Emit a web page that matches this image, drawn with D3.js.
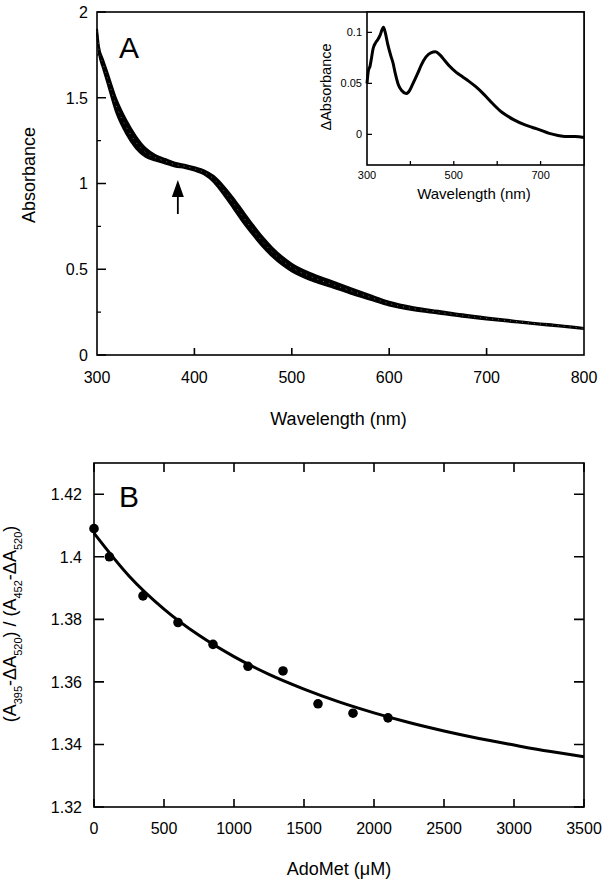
<!DOCTYPE html>
<html><head><meta charset="utf-8">
<script src="https://cdn.jsdelivr.net/npm/d3@7"></script>
<style>
body{margin:0;background:#fff}
text{font-family:"Liberation Sans",Arial,Helvetica,sans-serif;fill:#000}
</style>
</head><body>
<svg id="chart" width="604" height="884"></svg>
<script>
// ---------- Panel A: absorbance spectra (band of traces) ----------
const wavelengths = [300,302,306,310,320,330,340,350,360,370,380,390,400,410,420,430,440,450,460,470,480,490,500,520,540,560,580,600,625,650,675,700,725,750,775,800];
const absUpper = [1.902,1.80,1.725,1.66,1.49,1.37,1.275,1.205,1.166,1.143,1.121,1.11,1.095,1.077,1.043,0.985,0.915,0.837,0.76,0.688,0.626,0.574,0.532,0.475,0.433,0.391,0.35,0.311,0.279,0.258,0.237,0.219,0.203,0.187,0.174,0.158];
const absMiddle = [1.89,1.78,1.70,1.63,1.45,1.33,1.24,1.18,1.15,1.13,1.11,1.10,1.085,1.065,1.025,0.96,0.885,0.805,0.73,0.66,0.60,0.55,0.51,0.455,0.415,0.375,0.337,0.30,0.27,0.25,0.23,0.213,0.198,0.183,0.17,0.155];
const absLower = [1.878,1.76,1.675,1.60,1.41,1.29,1.205,1.155,1.134,1.117,1.099,1.09,1.075,1.053,1.007,0.935,0.855,0.773,0.70,0.632,0.574,0.526,0.488,0.435,0.397,0.359,0.324,0.289,0.261,0.242,0.223,0.207,0.193,0.179,0.166,0.152];
const aXTicks = [300,400,500,600,700,800];
const aYTicks = [0,0.5,1,1.5,2];
const aYTickLabels = ["0","0.5","1","1.5","2"];
const aYMinorTicks = [0.25,0.75,1.25,1.75];

// ---------- Inset: difference spectrum ----------
const insetWavelengths = [300,303,307,310,314,320,325,330,335,338,342,348,355,360,365,372,380,390,398,405,417,425,436,447,458,468,480,490,505,520,535,550,570,590,610,620,640,660,680,695,720,740,756,780,800];
const insetDeltaAbs = [0.050,0.062,0.067,0.074,0.084,0.090,0.093,0.097,0.103,0.105,0.100,0.088,0.077,0.070,0.060,0.049,0.043,0.040,0.043,0.049,0.060,0.068,0.076,0.080,0.081,0.078,0.072,0.067,0.061,0.0565,0.052,0.047,0.039,0.030,0.022,0.019,0.014,0.010,0.007,0.005,0.001,-0.001,-0.002,-0.002,-0.003];
const insetXLabels = [300,500,700];
const insetXTicks = [400,500,600,700];
const insetYTicks = [0,0.05,0.1];
const insetYTickLabels = ["0","0.05","0.1"];

// ---------- Panel B: titration ----------
const adometConc = [0,110,350,600,850,1100,1350,1600,1850,2100];
const ratioValues = [1.409,1.400,1.3875,1.379,1.372,1.365,1.3635,1.353,1.350,1.3485];
const fitConc = [0,250,500,750,1000,1250,1500,1750,2000,2250,2500,2750,3000,3250,3500];
const fitRatio = [1.4076,1.3939,1.3833,1.3749,1.3681,1.3624,1.3577,1.3536,1.3501,1.3470,1.3443,1.3419,1.3398,1.3378,1.3361];
const bXTicks = [0,500,1000,1500,2000,2500,3000,3500];
const bYTicks = [1.32,1.34,1.36,1.38,1.40,1.42];
const bYTickLabels = ["1.32","1.34","1.36","1.38","1.4","1.42"];

const svg = d3.select("#chart");
const FONT = "Liberation Sans, Arial, sans-serif";

function hTicks(g, vals, xs, y, len, w){ // vertical tick marks along a horizontal axis
  g.append("path").attr("d", vals.map(d=>`M${xs(d)},${y}v${len}`).join(""))
    .attr("fill","none").attr("stroke","#000").attr("stroke-width",w);
}
function vTicks(g, vals, ys, x, len, w){
  g.append("path").attr("d", vals.map(d=>`M${x},${ys(d)}h${len}`).join(""))
    .attr("fill","none").attr("stroke","#000").attr("stroke-width",w);
}
function xLabels(g, vals, fmt, xs, y, size){
  g.append("g").selectAll("text").data(vals).join("text")
    .attr("x",d=>xs(d)).attr("y",y).attr("text-anchor","middle")
    .attr("font-size",size).attr("font-family",FONT).text((d,i)=>fmt(d,i));
}
function yLabels(g, vals, fmt, ys, x, size){
  g.append("g").selectAll("text").data(vals).join("text")
    .attr("x",x).attr("y",d=>ys(d)).attr("dy","0.36em").attr("text-anchor","end")
    .attr("font-size",size).attr("font-family",FONT).text((d,i)=>fmt(d,i));
}

// ======== Panel A ========
const A = {l:97, r:584, t:12, b:355};
const xA = d3.scaleLinear().domain([300,800]).range([A.l, A.r]);
const yA = d3.scaleLinear().domain([0,2]).range([A.b, A.t]);
const gA = svg.append("g");

const bandArea = d3.area().x((d,i)=>xA(wavelengths[i])).y0((d,i)=>yA(absLower[i])).y1((d,i)=>yA(absUpper[i])).curve(d3.curveMonotoneX);
gA.append("path").datum(wavelengths).attr("d", bandArea).attr("fill","#000");
const lineFrom = arr => d3.line().x((d,i)=>xA(wavelengths[i])).y((d,i)=>yA(arr[i])).curve(d3.curveMonotoneX)(wavelengths);
[absUpper, absLower].forEach(arr => gA.append("path").attr("d", lineFrom(arr)).attr("fill","none").attr("stroke","#000").attr("stroke-width",2));
gA.append("path").attr("d", lineFrom(absMiddle)).attr("fill","none").attr("stroke","#fff").attr("stroke-width",0.6).attr("stroke-dasharray","1,5").attr("opacity",0.7);

gA.append("rect").attr("x",A.l).attr("y",A.t).attr("width",A.r-A.l).attr("height",A.b-A.t).attr("fill","none").attr("stroke","#000").attr("stroke-width",1.6);
hTicks(gA, aXTicks.slice(1,-1), xA, A.b, -7, 1.6);
vTicks(gA, aYTicks, yA, A.l, 9, 1.6);
vTicks(gA, aYMinorTicks, yA, A.l, 4, 1.3);
xLabels(gA, aXTicks, d=>String(d), xA, 383, 16);
yLabels(gA, aYTicks, (d,i)=>aYTickLabels[i], yA, 88, 16);

gA.append("text").attr("x",(A.l+A.r)/2-2).attr("y",425).attr("text-anchor","middle").attr("font-size",18).text("Wavelength (nm)");
gA.append("text").attr("transform",`translate(35,175) rotate(-90)`).attr("text-anchor","middle").attr("font-size",18).text("Absorbance");
gA.append("text").attr("x",119).attr("y",58).attr("font-size",30).text("A");

// arrow
const arrowX = xA(383);
gA.append("path").attr("d",`M${arrowX},214V192`).attr("stroke","#000").attr("stroke-width",1.8);
gA.append("path").attr("d",`M${arrowX},180 L${arrowX-6},197 L${arrowX+6},197 Z`).attr("fill","#000");

// ======== Inset ========
const I = {l:367, r:584, t:12, b:165};
const xI = d3.scaleLinear().domain([300,800]).range([I.l, I.r]);
const yI = d3.scaleLinear().domain([-0.03,0.12]).range([I.b, I.t]);
const gI = svg.append("g");
gI.append("rect").attr("x",I.l).attr("y",I.t).attr("width",I.r-I.l).attr("height",I.b-I.t).attr("fill","#fff").attr("stroke","#000").attr("stroke-width",1.6);
gI.append("path").attr("d", d3.line().x((d,i)=>xI(insetWavelengths[i])).y((d,i)=>yI(insetDeltaAbs[i])).curve(d3.curveMonotoneX)(insetWavelengths))
  .attr("fill","none").attr("stroke","#000").attr("stroke-width",3);
hTicks(gI, insetXTicks, xI, I.b, -4, 1.3);
vTicks(gI, insetYTicks, yI, I.l, 5, 1.3);
xLabels(gI, insetXLabels, d=>String(d), xI, 179, 11);
yLabels(gI, insetYTicks, (d,i)=>insetYTickLabels[i], yI, 362, 11);
gI.append("text").attr("x",474).attr("y",199).attr("text-anchor","middle").attr("font-size",15).text("Wavelength (nm)");
gI.append("text").attr("transform",`translate(331,87) rotate(-90)`).attr("text-anchor","middle").attr("font-size",14.5).text("\u0394Absorbance");

// ======== Panel B ========
const B = {l:94, r:584, t:463, b:807};
const xB = d3.scaleLinear().domain([0,3500]).range([B.l, B.r]);
const yB = d3.scaleLinear().domain([1.32,1.43]).range([B.b, B.t]);
const gB = svg.append("g");
gB.append("rect").attr("x",B.l).attr("y",B.t).attr("width",B.r-B.l).attr("height",B.b-B.t).attr("fill","none").attr("stroke","#000").attr("stroke-width",1.6);
hTicks(gB, bXTicks, xB, B.b, -8, 1.6);
hTicks(gB, bXTicks, xB, B.t, 9, 1.6);
vTicks(gB, bYTicks, yB, B.l, 10, 1.6);
vTicks(gB, bYTicks, yB, B.r, -10, 1.6);
xLabels(gB, bXTicks, d=>String(d), xB, 834, 16);
yLabels(gB, bYTicks, (d,i)=>bYTickLabels[i], yB, 82, 16);

gB.append("path").attr("d", d3.line().x((d,i)=>xB(fitConc[i])).y((d,i)=>yB(fitRatio[i])).curve(d3.curveMonotoneX)(fitConc))
  .attr("fill","none").attr("stroke","#000").attr("stroke-width",3);
gB.selectAll("circle.pt").data(adometConc).join("circle").attr("class","pt")
  .attr("cx",(d)=>xB(d)).attr("cy",(d,i)=>yB(ratioValues[i])).attr("r",4.8).attr("fill","#000");

gB.append("text").attr("x",119).attr("y",507).attr("font-size",30).text("B");
gB.append("text").attr("x",339).attr("y",875).attr("text-anchor","middle").attr("font-size",18).text("AdoMet (\u03bcM)");

const yl = gB.append("text").attr("transform",`translate(16,624) rotate(-90)`).attr("text-anchor","middle").attr("font-size",18);
const parts = [["(A",false],["395",true],["-\u0394A",false],["520",true],[") / (A",false],["452",true],["-\u0394A",false],["520",true],[")",false]];
let shifted = false;
parts.forEach(([t,sub])=>{
  const ts = yl.append("tspan").text(t);
  if (sub && !shifted){ ts.attr("dy",6).attr("font-size",11); shifted = true; }
  else if (sub){ ts.attr("font-size",11); }
  else if (!sub && shifted){ ts.attr("dy",-6); shifted = false; }
});
</script>
</body></html>
